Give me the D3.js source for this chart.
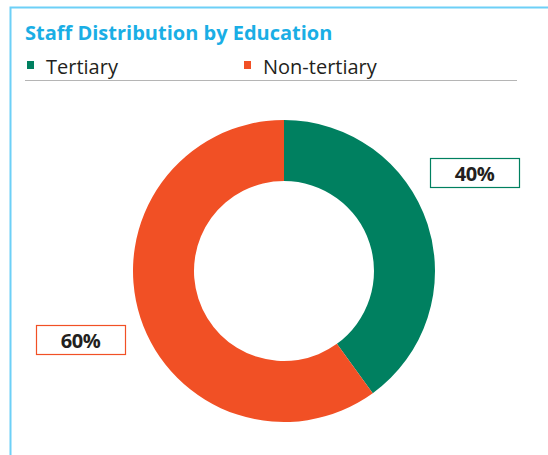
<!DOCTYPE html>
<html>
<head>
<meta charset="utf-8">
<script src="https://cdn.jsdelivr.net/npm/d3@7"></script>
<style>
  body { margin: 0; background: #fff; }
  svg { display: block; font-family: "Open Sans", "Noto Sans", sans-serif; }
  .title { font-size: 20px; font-weight: bold; fill: #1aaee5; }
  .legendText { font-size: 20px; fill: #231f20; }
  .valueText { font-size: 20px; font-weight: bold; fill: #231f20; letter-spacing: -0.5px; }
</style>
</head>
<body>
<div id="chart"></div>
<script>
// Data
var categories = ["Tertiary", "Non-tertiary"];
var values = [40, 60];
var labels = ["40%", "60%"];
var colors = ["#008060", "#f15025"];

// Spacing
var width = 548, height = 455;
var center = {x: 284, y: 271};
var outerR = 151, innerR = 90;

var svg = d3.select("#chart")
  .append("svg")
  .attr("width", width)
  .attr("height", height);

// Frame lines (top and left)
svg.append("path")
  .attr("d", "M10.5," + height + "V7.5H" + width)
  .attr("fill", "none")
  .attr("stroke", "#6dd0f7")
  .attr("stroke-width", 2);

// Title
svg.append("text")
  .attr("x", 25)
  .attr("y", 40)
  .attr("class", "title")
  .text("Staff Distribution by Education");

// Legend
var legendX = [27, 244];
var legend = svg.selectAll(".legend")
  .data(categories)
  .enter()
  .append("g")
  .attr("class", "legend")
  .attr("transform", function(d, i) { return "translate(" + legendX[i] + ",0)"; });

legend.append("rect")
  .attr("x", 0)
  .attr("y", 61)
  .attr("width", 7)
  .attr("height", 8)
  .style("fill", function(d, i) { return colors[i]; });

legend.append("text")
  .attr("x", 19)
  .attr("y", 74)
  .attr("class", "legendText")
  .text(function(d) { return d; });

// Separator
svg.append("line")
  .attr("x1", 25).attr("x2", 517)
  .attr("y1", 80.5).attr("y2", 80.5)
  .attr("stroke", "#b5b5b5")
  .attr("stroke-width", 1);

// Donut
var pie = d3.pie().sort(null).value(function(d) { return d; });
var arc = d3.arc().innerRadius(innerR).outerRadius(outerR);

var g = svg.append("g")
  .attr("transform", "translate(" + center.x + "," + center.y + ")");

g.selectAll(".slice")
  .data(pie(values))
  .enter()
  .append("path")
  .attr("class", "slice")
  .attr("d", arc)
  .style("fill", function(d, i) { return colors[i]; });

// Value boxes
var boxes = [{x: 430, y: 158}, {x: 36, y: 325}];
var boxW = 89, boxH = 29;

var box = svg.selectAll(".valueBox")
  .data(labels)
  .enter()
  .append("g")
  .attr("class", "valueBox")
  .attr("transform", function(d, i) { return "translate(" + boxes[i].x + "," + boxes[i].y + ")"; });

box.append("rect")
  .attr("x", 0.5)
  .attr("y", 0.5)
  .attr("width", boxW)
  .attr("height", boxH)
  .attr("fill", "#fff")
  .attr("stroke", function(d, i) { return colors[i]; })
  .attr("stroke-width", 1.2);

box.append("text")
  .attr("x", boxW / 2)
  .attr("y", boxH / 2 + 8)
  .attr("text-anchor", "middle")
  .attr("class", "valueText")
  .text(function(d) { return d; });
</script>
</body>
</html>
